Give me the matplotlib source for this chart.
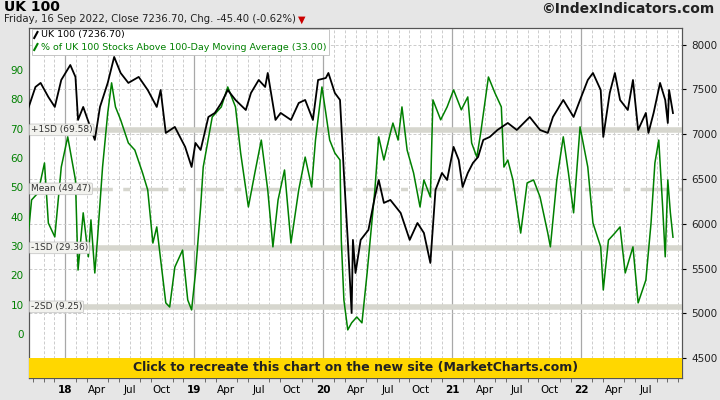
import matplotlib.pyplot as plt
from matplotlib.patches import Rectangle

# decimal years / values
ftse_t = [2017.71, 2017.77, 2017.81, 2017.87, 2017.92, 2017.97, 2018.04, 2018.08, 2018.10, 2018.14,
          2018.23, 2018.27, 2018.33, 2018.38, 2018.43, 2018.49, 2018.57, 2018.64, 2018.71, 2018.74,
          2018.78, 2018.85, 2018.93, 2018.98, 2019.01, 2019.05, 2019.11, 2019.16, 2019.21, 2019.26,
          2019.32, 2019.40, 2019.44, 2019.50, 2019.55, 2019.57, 2019.63, 2019.67, 2019.75, 2019.81,
          2019.86, 2019.92, 2019.96, 2020.02, 2020.04, 2020.09, 2020.13, 2020.16, 2020.19, 2020.22,
          2020.23, 2020.25, 2020.29, 2020.35, 2020.40, 2020.43, 2020.47, 2020.52, 2020.60, 2020.67,
          2020.73, 2020.78, 2020.83, 2020.87, 2020.92, 2020.96, 2021.01, 2021.05, 2021.08, 2021.12,
          2021.16, 2021.20, 2021.24, 2021.29, 2021.35, 2021.43, 2021.50, 2021.60, 2021.68, 2021.74,
          2021.78, 2021.86, 2021.94, 2021.99, 2022.05, 2022.09, 2022.15, 2022.17, 2022.22, 2022.26,
          2022.30, 2022.36, 2022.40, 2022.44, 2022.50, 2022.52, 2022.56, 2022.61, 2022.65, 2022.67,
          2022.68, 2022.71]
ftse_v = [7271, 7528, 7573, 7416, 7305, 7606, 7773, 7640, 7160, 7305,
          6937, 7305, 7573, 7863, 7684, 7573, 7640, 7494, 7305, 7494,
          7015, 7082, 6859, 6635, 6903, 6825, 7193, 7238, 7349, 7494,
          7383, 7271, 7461, 7606, 7528, 7684, 7160, 7238, 7160, 7349,
          7383, 7160, 7606, 7628, 7684, 7461, 7383, 6568, 5821, 5006,
          5821, 5452, 5821, 5932, 6300, 6490, 6234, 6267, 6122, 5821,
          6010, 5899, 5564, 6379, 6568, 6490, 6859, 6713, 6412, 6568,
          6680, 6747, 6937, 6970, 7048, 7126, 7048, 7193, 7048, 7015,
          7193, 7383, 7193, 7383, 7606, 7684, 7494, 6970, 7461, 7684,
          7383, 7271, 7606, 7048, 7238, 7015, 7238, 7573, 7383, 7126,
          7494, 7236.7]

pct_t = [2017.71, 2017.74, 2017.79, 2017.84, 2017.87, 2017.92, 2017.97, 2018.02, 2018.08, 2018.10,
         2018.14, 2018.18, 2018.20, 2018.23, 2018.25, 2018.29, 2018.33, 2018.36, 2018.39, 2018.43,
         2018.49, 2018.54, 2018.60, 2018.64, 2018.68, 2018.71, 2018.78, 2018.81, 2018.85, 2018.91,
         2018.95, 2018.98, 2019.01, 2019.05, 2019.07, 2019.14, 2019.21, 2019.26, 2019.32, 2019.36,
         2019.42, 2019.47, 2019.52, 2019.57, 2019.61, 2019.65, 2019.70, 2019.75, 2019.81, 2019.86,
         2019.91, 2019.94, 2019.99, 2020.02, 2020.05, 2020.09, 2020.13, 2020.14, 2020.16, 2020.19,
         2020.22, 2020.26, 2020.30, 2020.34, 2020.40, 2020.43, 2020.47, 2020.52, 2020.54, 2020.58,
         2020.61, 2020.65, 2020.70, 2020.75, 2020.78, 2020.83, 2020.85, 2020.91, 2020.96, 2021.01,
         2021.07, 2021.12, 2021.15, 2021.19, 2021.22, 2021.28, 2021.33, 2021.38, 2021.40, 2021.43,
         2021.47, 2021.53, 2021.58, 2021.63, 2021.68, 2021.74, 2021.76, 2021.81, 2021.86, 2021.90,
         2021.94, 2021.99, 2022.05, 2022.09, 2022.15, 2022.17, 2022.21, 2022.26, 2022.30, 2022.34,
         2022.40, 2022.44, 2022.50, 2022.54, 2022.57, 2022.60, 2022.63, 2022.65, 2022.67, 2022.69,
         2022.71]
pct_v = [32.0, 45.7, 48.1, 58.3, 37.8, 33.1, 56.9, 67.2, 52.5, 21.8,
         41.3, 26.3, 38.9, 20.8, 32.0, 56.9, 75.3, 85.6, 77.4, 73.0,
         65.1, 62.7, 54.9, 49.1, 31.0, 36.5, 10.6, 9.2, 22.8, 28.6,
         11.6, 8.2, 20.8, 43.3, 56.9, 74.0, 77.4, 84.2, 77.4, 61.7,
         43.3, 54.9, 66.1, 49.1, 29.7, 45.7, 55.9, 31.0, 49.1, 60.3,
         50.1, 66.1, 84.2, 75.3, 66.1, 61.7, 59.3, 32.0, 11.6, 1.4,
         3.8, 5.8, 3.8, 20.8, 49.1, 67.2, 59.3, 68.5, 71.9, 66.1,
         77.4, 62.7, 54.9, 43.3, 52.5, 46.7, 79.8, 73.0, 77.4, 83.2,
         76.4, 80.8, 65.1, 60.3, 68.5, 87.6, 82.2, 77.4, 56.9, 59.3,
         52.5, 34.4, 51.5, 52.5, 46.7, 34.4, 29.7, 52.5, 67.2, 54.9,
         41.3, 70.6, 56.9, 37.8, 29.7, 15.0, 32.0, 34.4, 36.5, 20.8,
         29.7, 10.6, 18.4, 37.8, 58.3, 66.1, 43.3, 26.3, 52.5, 41.3,
         33.0]

sd_levels = [69.58, 29.36, 9.25]
sd_labels = ['+1SD (69.58)', '-1SD (29.36)', '-2SD (9.25)']
mean_level = 49.47
years = [2018, 2019, 2020, 2021, 2022]

green = '#008000'
fig = plt.figure(figsize=(7.2, 4.0), dpi=100)
fig.patch.set_facecolor('#e6e6e6')
ax = fig.add_axes([29 / 720, 22 / 400, 653 / 720, 350 / 400])
ax2 = ax.twinx()
ax.set_zorder(ax2.get_zorder() + 1)
ax.patch.set_visible(False)
ax2.patch.set_visible(True)
ax2.patch.set_facecolor('white')

ax.set_xlim(2017.72, 2022.78)
ax.set_ylim(-15.0, 104.3)
ax2.set_ylim(4280, 8186)

# grid
for y in years:
    for m in range(12):
        t = y + m / 12
        if m == 0:
            ax2.axvline(t, color='#a8a8a8', lw=0.9, zorder=0)
        else:
            ax2.axvline(t, color='#cccccc', lw=0.7, ls=(0, (3, 2)), zorder=0)
for t in [2017 + 10 / 12, 2017 + 11 / 12]:
    ax2.axvline(t, color='#cccccc', lw=0.7, ls=(0, (3, 2)), zorder=0)
for v in range(4500, 8001, 500):
    ax2.axhline(v, color='#cccccc', lw=0.7, ls=(0, (3, 2)), zorder=0)

# SD bands
for lvl, lab in zip(sd_levels, sd_labels):
    ax.axhline(lvl, color='#d6d6ce', lw=4, zorder=1)
    ax.text(2017.735, lvl, lab, fontsize=6.5, color='#333333', va='center', ha='left', zorder=6,
            bbox=dict(boxstyle='round,pad=0.15', fc='#f2f2ee', ec='#c0c0c0', lw=0.5))
ax.axhline(mean_level, color='#d6d6ce', lw=2.5, ls=(0, (8, 3, 2, 3)), zorder=1)
ax.text(2017.735, mean_level, 'Mean (49.47)', fontsize=6.5, color='#333333', va='center', ha='left',
        zorder=6, bbox=dict(boxstyle='round,pad=0.15', fc='#f2f2ee', ec='#c0c0c0', lw=0.5))

ax.plot(pct_t, pct_v, color=green, lw=1.1, zorder=3)
ax.plot(ftse_t, [(v - 4280) / (8186 - 4280) * 119.3 - 15.0 for v in ftse_v], color='black', lw=1.3, zorder=4)

# ticks
ax.set_yticks(range(0, 91, 10))
ax.tick_params(axis='y', colors=green, labelsize=7.5, length=0, pad=4)
ax2.set_yticks(range(4500, 8001, 500))
ax2.tick_params(axis='y', labelsize=7.5, length=3, labelcolor='#222222')
ticks, labels = [], []
for y in years:
    for m, name in [(0, str(y)[2:]), (3, 'Apr'), (6, 'Jul'), (9, 'Oct')]:
        ticks.append(y + m / 12)
        labels.append(name)
ticks, labels = ticks[:-1], labels[:-1]
ax.set_xticks(ticks)
ax.set_xticklabels(labels, fontsize=7.5)
for lab in ax.get_xticklabels():
    if lab.get_text().isdigit():
        lab.set_fontweight('bold')
ax.tick_params(axis='x', length=0, pad=5)
ax.set_xticks([y + m / 12 for y in range(2017, 2023) for m in range(12) if 2017.72 < y + m / 12 < 2022.78], minor=True)
ax.tick_params(axis='x', which='minor', length=3, color='#555555')
for a in (ax, ax2):
    for s in a.spines.values():
        s.set_color('#555555')

# banner
ax.add_patch(Rectangle((0, 0), 1, 20 / 350, transform=ax.transAxes, fc='#ffd700', ec='none', zorder=7))
ax.text(0.5, 10 / 350, 'Click to recreate this chart on the new site (MarketCharts.com)', transform=ax.transAxes,
        ha='center', va='center', fontsize=9, fontweight='bold', color='#222222', zorder=8)

# legend
leg_box = Rectangle((0.004, 1 - 27 / 350), 0.455, 26 / 350, transform=ax.transAxes, fc='white', ec='#bbbbbb',
                    lw=0.6, zorder=7)
ax.add_patch(leg_box)
ax.text(0.018, 1 - 7 / 350, 'UK 100 (7236.70)', transform=ax.transAxes, fontsize=6.8, va='center', zorder=8)
ax.text(0.018, 1 - 19 / 350, '% of UK 100 Stocks Above 100-Day Moving Average (33.00)', transform=ax.transAxes,
        fontsize=6.8, va='center', color=green, zorder=8)
ax.plot([0.008, 0.013], [1 - 10 / 350, 1 - 4 / 350], transform=ax.transAxes, color='black', lw=1.5, zorder=8)
ax.plot([0.008, 0.013], [1 - 22 / 350, 1 - 16 / 350], transform=ax.transAxes, color=green, lw=1.5, zorder=8)

fig.text(4 / 720, 1 - 7 / 400, 'UK 100', fontsize=10, fontweight='bold', va='center')
fig.text(4 / 720, 1 - 19 / 400, 'Friday, 16 Sep 2022, Close 7236.70, Chg. -45.40 (-0.62%)', fontsize=7.3,
         va='center', color='#222222')
fig.text(298 / 720, 1 - 20 / 400, '\u25bc', fontsize=7, va='center', color='#cc0000')
fig.text(714 / 720, 1 - 9 / 400, '\u00a9IndexIndicators.com', fontsize=10, fontweight='bold', va='center',
         ha='right', color='#222222')

fig.savefig('out.png', dpi=100, facecolor=fig.get_facecolor())
